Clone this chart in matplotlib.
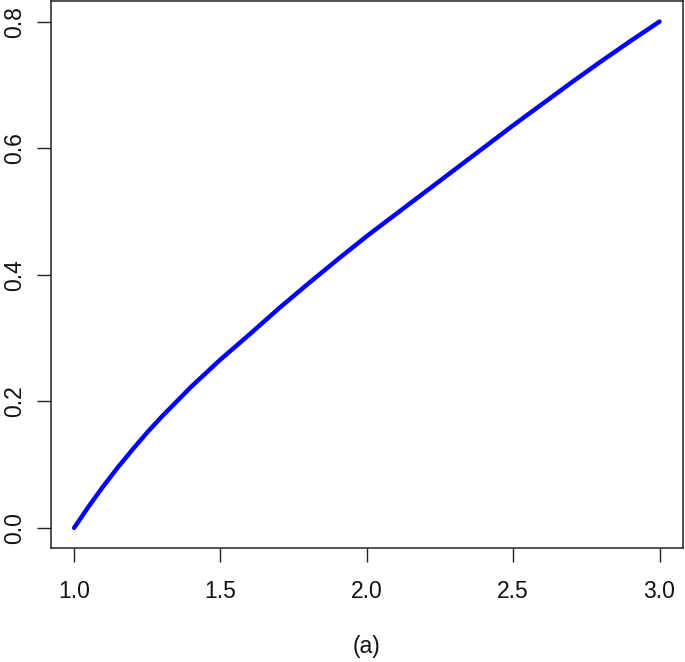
import numpy as np
import matplotlib
matplotlib.use("Agg")
import matplotlib.pyplot as plt

plt.rcParams['font.family'] = ['Liberation Sans', 'DejaVu Sans']

# curve values
x_vals = [1.0, 1.05, 1.1, 1.15, 1.2, 1.25, 1.3, 1.4, 1.5, 1.6, 1.7, 1.8,
          1.9, 2.0, 2.1, 2.2, 2.3, 2.4, 2.5, 2.6, 2.7, 2.8, 2.9, 3.0]
y_vals = [0.0, 0.034, 0.066, 0.096, 0.124, 0.151, 0.176, 0.223, 0.266,
          0.306, 0.347, 0.386, 0.424, 0.461, 0.496, 0.531, 0.566, 0.601,
          0.636, 0.670, 0.704, 0.737, 0.769, 0.800]
x_ticks = [1.0, 1.5, 2.0, 2.5, 3.0]
y_ticks = [0.0, 0.2, 0.4, 0.6, 0.8]
caption = "(a)"

fig = plt.figure(figsize=(6.85, 6.62), dpi=100)
ax = fig.add_axes([0.074, 0.172, 0.923, 0.826])

ax.plot(x_vals, y_vals, color="#0000ff", lw=3.2, solid_capstyle="round",
        solid_joinstyle="round")

ax.set_xlim(0.92, 3.08)
ax.set_ylim(-0.032, 0.832)
ax.set_xticks(x_ticks)
ax.set_yticks(y_ticks)
ax.set_xticklabels(["%.1f" % v for v in x_ticks])
ax.set_yticklabels(["%.1f" % v for v in y_ticks], rotation=90, va="center")
ax.tick_params(labelsize=16.5, length=10, width=1, color="#222222",
               labelcolor="#111111")
ax.tick_params(axis="x", pad=13)
ax.tick_params(axis="y", pad=8)
for s in ax.spines.values():
    s.set_linewidth(1.1)
    s.set_color("#222222")

fig.text(367 / 685, 1 - 646 / 662, caption, ha="center", va="center",
         fontsize=16.5, color="#111111")

fig.savefig("out.png", dpi=100)
